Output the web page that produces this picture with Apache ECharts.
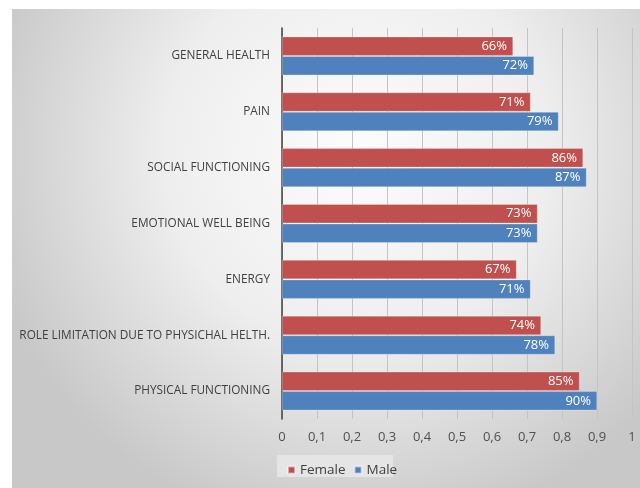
<!DOCTYPE html>
<html>
<head>
<meta charset="utf-8">
<script src="https://cdn.jsdelivr.net/npm/echarts@6/dist/echarts.min.js"></script>
<style>
    html, body { margin: 0; padding: 0; background: #ffffff; }
    #chart { width: 640px; height: 488px; }
</style>
</head>
<body>
<div id="chart"></div>
<script>
    // categories top to bottom
    var categories = ['GENERAL HEALTH', 'PAIN', 'SOCIAL FUNCTIONING', 'EMOTIONAL WELL BEING', 'ENERGY', 'ROLE LIMITATION DUE TO PHYSICHAL HELTH.', 'PHYSICAL FUNCTIONING']
    var female = [0.66, 0.71, 0.86, 0.73, 0.67, 0.74, 0.85]
    var male = [0.72, 0.79, 0.87, 0.73, 0.71, 0.78, 0.90]
    var seriesNames = ['Female', 'Male']

    var font = '"Open Sans", sans-serif'
    var myChart = echarts.init(document.getElementById('chart'))

    var pctLabel = {
        show: true,
        position: 'insideRight',
        color: '#ffffff',
        fontSize: 13,
        fontFamily: font,
        distance: 6,
        formatter: function (p) {
            return Math.round(p.value * 100) + '%'
        }
    }

    var option = {
        backgroundColor: '#ffffff',
        animation: false,
        graphic: [
            {
                type: 'rect',
                z: -10,
                silent: true,
                shape: {x: 12, y: 9, width: 628, height: 479},
                style: {
                    fill: new echarts.graphic.RadialGradient(0.55, 0.3, 0.8, [
                        {offset: 0, color: '#fcfcfc'},
                        {offset: 0.5, color: '#eeeeee'},
                        {offset: 1, color: '#c8c8c8'}
                    ])
                }
            },
            {
                type: 'rect',
                z: -5,
                silent: true,
                shape: {x: 277, y: 455, width: 116, height: 22},
                style: {fill: 'rgba(232,232,232,0.85)'}
            }
        ],
        legend: {
            data: seriesNames,
            left: 282,
            top: 458,
            itemWidth: 7,
            itemHeight: 7,
            itemGap: 8,
            icon: 'rect',
            textStyle: {fontSize: 13.5, color: '#404040', fontFamily: font}
        },
        grid: {
            left: 282,
            right: 8,
            top: 28,
            bottom: 69
        },
        xAxis: {
            type: 'value',
            min: 0,
            max: 1,
            interval: 0.1,
            axisLine: {show: false},
            axisTick: {show: false},
            splitLine: {lineStyle: {color: '#c4c4c4', width: 1}},
            axisLabel: {
                color: '#505050',
                fontSize: 13,
                fontFamily: font,
                margin: 12,
                formatter: function (v) {
                    return String(Math.round(v * 10) / 10).replace('.', ',')
                }
            }
        },
        yAxis: {
            type: 'category',
            inverse: true,
            data: categories,
            axisLine: {lineStyle: {color: '#404040', width: 1.5}},
            axisTick: {show: false},
            axisLabel: {
                color: '#404040',
                fontSize: 11.8,
                fontFamily: font,
                margin: 12
            }
        },
        series: [
            {
                name: seriesNames[0],
                type: 'bar',
                data: female,
                barGap: '3%',
                barCategoryGap: '31%',
                itemStyle: {color: '#c0504d', borderColor: 'rgba(255,255,255,0.5)', borderWidth: 0.5},
                label: pctLabel
            },
            {
                name: seriesNames[1],
                type: 'bar',
                data: male,
                barGap: '3%',
                barCategoryGap: '31%',
                itemStyle: {color: '#4f81bd', borderColor: 'rgba(255,255,255,0.5)', borderWidth: 0.5},
                label: pctLabel
            }
        ]
    }
    myChart.setOption(option)
</script>
</body>
</html>
